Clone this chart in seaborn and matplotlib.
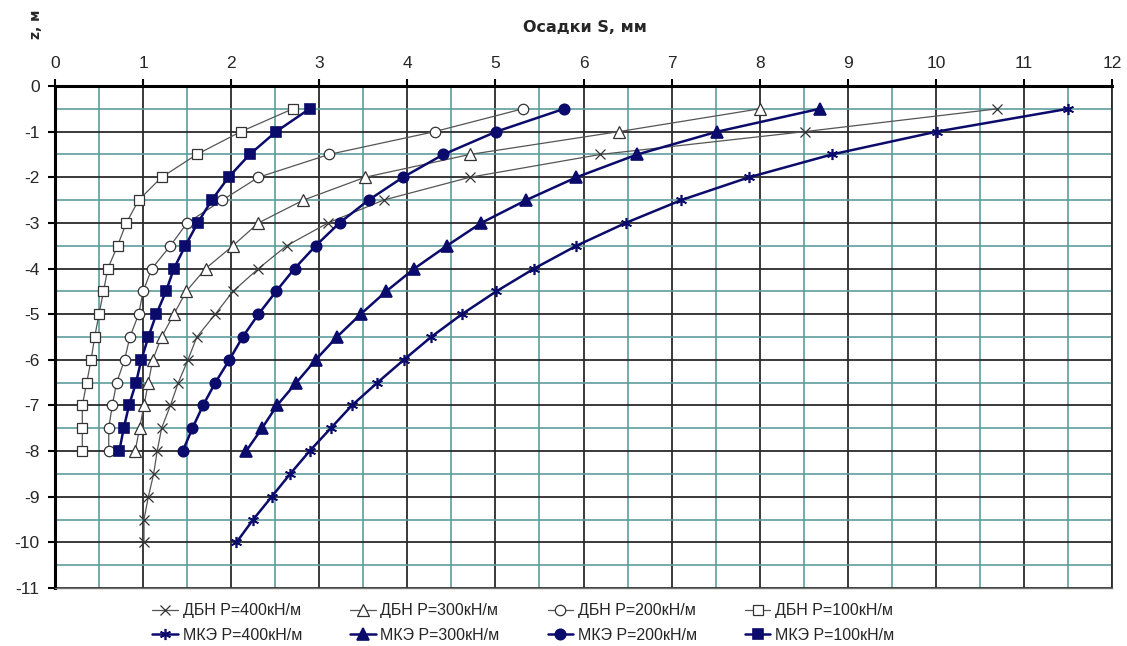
import numpy as np
import pandas as pd
import matplotlib
matplotlib.use("Agg")
import matplotlib.pyplot as plt
from matplotlib.ticker import MultipleLocator
import seaborn as sns

# depths, m
z_short = [-0.5, -1, -1.5, -2, -2.5, -3, -3.5, -4, -4.5, -5, -5.5, -6, -6.5, -7, -7.5, -8]
z_long = z_short + [-8.5, -9, -9.5, -10]

# settlements S, mm
dbn_400 = [10.7, 8.51, 6.19, 4.71, 3.73, 3.10, 2.63, 2.31, 2.02, 1.82, 1.61, 1.51, 1.40, 1.31, 1.21, 1.16,
           1.12, 1.06, 1.01, 1.01]
dbn_300 = [8.0, 6.40, 4.71, 3.52, 2.82, 2.31, 2.02, 1.71, 1.49, 1.35, 1.21, 1.11, 1.06, 1.01, 0.96, 0.91]
dbn_200 = [5.31, 4.31, 3.11, 2.31, 1.90, 1.50, 1.31, 1.10, 1.0, 0.95, 0.85, 0.79, 0.70, 0.65, 0.61, 0.61]
dbn_100 = [2.70, 2.11, 1.61, 1.21, 0.95, 0.81, 0.71, 0.60, 0.55, 0.50, 0.45, 0.41, 0.36, 0.31, 0.31, 0.31]
mke_400 = [11.5, 10.01, 8.82, 7.88, 7.11, 6.48, 5.92, 5.44, 5.01, 4.62, 4.27, 3.96, 3.66, 3.37, 3.13, 2.89,
           2.67, 2.46, 2.25, 2.06]
mke_300 = [8.68, 7.52, 6.61, 5.92, 5.35, 4.84, 4.45, 4.08, 3.76, 3.47, 3.20, 2.96, 2.74, 2.52, 2.35, 2.17]
mke_200 = [5.78, 5.01, 4.41, 3.95, 3.56, 3.23, 2.96, 2.72, 2.51, 2.31, 2.13, 1.98, 1.82, 1.68, 1.56, 1.45]
mke_100 = [2.89, 2.51, 2.21, 1.97, 1.78, 1.62, 1.48, 1.35, 1.26, 1.15, 1.06, 0.98, 0.92, 0.84, 0.78, 0.73]

sns.set_theme(style="white")
plt.rcParams['font.family'] = ['Liberation Sans', 'DejaVu Sans']
plt.rcParams['axes.unicode_minus'] = False

fig = plt.figure(figsize=(11.27, 6.46), dpi=100)
ax = fig.add_axes([55 / 1127, 1 - 588 / 646, (1112 - 55) / 1127, (588 - 86) / 646])

gray = '#555555'
navy = '#0b0b6b'

# (label, S values, z values, marker, filled, marker size)
series = [
    ('ДБН P=400кН/м', dbn_400, z_long, 'x', False, 7),
    ('МКЭ P=400кН/м', mke_400, z_long, (6, 2, 0), True, 8),
    ('ДБН P=300кН/м', dbn_300, z_short, '^', False, 8.5),
    ('МКЭ P=300кН/м', mke_300, z_short, '^', True, 8.5),
    ('ДБН P=200кН/м', dbn_200, z_short, 'o', False, 7.5),
    ('МКЭ P=200кН/м', mke_200, z_short, 'o', True, 7.5),
    ('ДБН P=100кН/м', dbn_100, z_short, 's', False, 7.5),
    ('МКЭ P=100кН/м', mke_100, z_short, 's', True, 7.5),
]

for label, s, z, mk, filled, ms in series:
    if filled:
        sns.lineplot(x=s, y=z, sort=False, estimator=None, ax=ax, label=label,
                     color=navy, lw=1.8, marker=mk, markersize=ms,
                     markerfacecolor=navy, markeredgecolor=navy, markeredgewidth=1.2, zorder=4)
    else:
        sns.lineplot(x=s, y=z, sort=False, estimator=None, ax=ax, label=label,
                     color=gray, lw=0.9, marker=mk, markersize=ms,
                     markerfacecolor='white', markeredgecolor='#333333', markeredgewidth=0.9, zorder=3)

ax.set_xlim(0, 12)
ax.set_ylim(-11, 0)
ax.xaxis.set_major_locator(MultipleLocator(1))
ax.yaxis.set_major_locator(MultipleLocator(1))
ax.xaxis.set_minor_locator(MultipleLocator(0.5))
ax.yaxis.set_minor_locator(MultipleLocator(0.5))
ax.xaxis.tick_top()
ax.set_axisbelow(True)

ax.grid(which='minor', color='#5f9c9c', lw=1.2)
ax.grid(which='major', color='#2a2a2a', lw=1.3)
ax.tick_params(which='major', direction='out', length=5, width=1.5, color='black',
               labelsize=12.5, pad=6, top=True, left=True, bottom=False, right=False)
ax.tick_params(which='minor', length=0)

for side in ['left', 'top']:
    ax.spines[side].set_linewidth(2.2)
    ax.spines[side].set_color('black')
ax.spines['right'].set_color('#2a2a2a')
ax.spines['right'].set_linewidth(1.3)
ax.spines['bottom'].set_color('#707070')
ax.spines['bottom'].set_linewidth(1.0)

ax.set_xlabel('')
ax.set_ylabel('')
fig.text(585 / 1127, 1 - 28 / 646, 'Осадки S, мм', ha='center', va='center',
         fontsize=11.5, fontweight='bold', family='DejaVu Sans')
fig.text(36 / 1127, 1 - 24 / 646, 'z, м', ha='center', va='center', rotation=90,
         fontsize=10, fontweight='bold', family='DejaVu Sans')

handles, labels = ax.get_legend_handles_labels()
ax.get_legend().remove()
fig.legend(handles, labels, ncol=4, loc='upper left', bbox_to_anchor=(146 / 1127, 1 - 597 / 646),
           frameon=False, handlelength=1.6, handletextpad=0.3, columnspacing=3.0,
           labelspacing=0.6, borderaxespad=0,
           prop={'family': ['Liberation Sans Narrow', 'Liberation Sans'], 'size': 11.5})

fig.savefig('out.png', dpi=100)
